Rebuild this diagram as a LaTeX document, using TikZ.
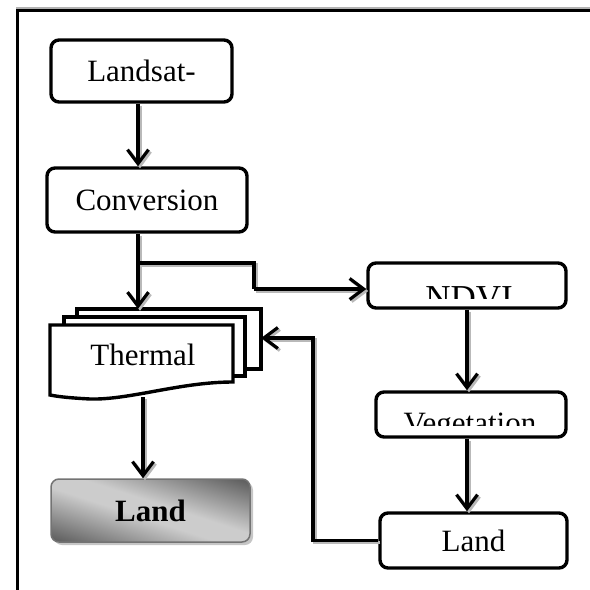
\documentclass[tikz,border=0pt]{standalone}
\usepackage{fontspec}
\setmainfont{Liberation Serif}
\usetikzlibrary{arrows.meta,calc,shadows}
\pgfdeclareverticalshading{landshade}{100bp}{color(0bp)=(black!62); color(37bp)=(black!62); color(48bp)=(black!20); color(52bp)=(black!20); color(63bp)=(black!62); color(100bp)=(black!62)}
\newcommand\myconnectors{%
\draw[conn] (landsat.south -| ax) -- (conv.north -| ax);
\draw[conn] (conv.south -| ax) -- (thstack.north -| ax);
\draw[plainline] (br1) -- (br2) -- (br3);
\draw[conn] (br3) -- (ndvi.west |- br3);
\draw[conn] (ndvi.south -| ax3) -- (veg.north -| ax3);
\draw[conn] (veg.south -| ax3) -- (landr.north -| ax3);
\draw[conn] (landr.west) -- (fb1) -- (fb2) -- (thstack.east |- fb2);
\draw[conn] (thstack.south -| ax2) -- (landb.north -| ax2);
}
\begin{document}
\begin{tikzpicture}[x=1pt,y=-1pt,
  box/.style={draw=black, line width=3.4pt, rounded corners=8pt, fill=white, inner sep=0pt,
    font=\fontsize{31}{36}\selectfont},
  conn/.style={line width=3.2pt, line join=miter, -{Straight Barb[length=14pt,width=21pt,line width=3.2pt]}},
  plainline/.style={line width=3.2pt, line join=miter},
  sheet/.style={draw=black, line width=3.4pt, fill=white},
  txt/.style={font=\fontsize{31}{36}\selectfont, inner sep=0pt}
]
\useasboundingbox (0,0) rectangle (590,590);
% frame
\draw[gray!60, line width=3pt] (17,590) -- (17,8) -- (590,8);
\draw[line width=3pt] (17,590) -- (17,10) -- (590,10);

% boxes
\node[box, minimum width=181pt, minimum height=62pt] (landsat) at (141.5,71) {Landsat-};
\node[box, minimum width=200pt, minimum height=64pt] (conv) at (147,200) {Conversion};
\node[box, minimum width=198pt, minimum height=45pt] (ndvi) at (467,285.5) {};
\node[box, minimum width=190pt, minimum height=45pt] (veg) at (471,414.5) {};
\node[box, minimum width=187pt, minimum height=55pt] (landr) at (473.5,540.5) {Land};

% gradient result box
\path[rounded corners=8pt, fill=gray!45] (54,482) rectangle (253,545);
\begin{scope}
  \clip[rounded corners=8pt] (51,479) rectangle (250,542);
  \shade[shading=landshade, shading angle=-18] (40.5,400.5) rectangle (260.5,620.5);
\end{scope}
\node[draw=black!55, line width=1.5pt, rounded corners=8pt, inner sep=0pt,
  minimum width=199pt, minimum height=63pt,
  font=\fontsize{31}{36}\selectfont\bfseries] (landb) at (150.5,510.5) {Land};

% clipped texts
\begin{scope}
  \clip (ndvi.north west) rectangle (ndvi.east |- 0,298);
  \node[font=\fontsize{35}{40}\selectfont, inner sep=0pt, anchor=base] (ndvit) at (469,309) {NDVI};
\end{scope}
\begin{scope}
  \clip (veg.north west) rectangle (veg.east |- 0,425.5);
  \node[txt, anchor=base] (vegt) at (470,433.5) {Vegetation};
\end{scope}

% thermal multi-document
\draw[sheet] (77,309) rectangle (261,369);
\draw[sheet] (64,317) rectangle (245,376);
\draw[sheet] (50,325) -- (233,325) -- (233,382)
  .. controls (180,382) and (130,400) .. (90,399)
  .. controls (72,398) and (60,397) .. (50,395) -- cycle;
\node[txt] (thermal) at (143,355) {Thermal};
\node[inner sep=0pt, minimum width=211pt, minimum height=88pt] (thstack) at (155.5,353) {};

% helper coordinates
\coordinate (ax) at (138,0);
\coordinate (ax2) at (143,0);
\coordinate (ax3) at (467,0);
\coordinate (br1) at (138,263);
\coordinate (br2) at (254,263);
\coordinate (br3) at (254,289);
\coordinate (fb1) at (313,540.5);
\coordinate (fb2) at (313,338);

% connectors: shadow then black
\begin{scope}[gray!55, transform canvas={shift={(2pt,-2pt)}}]
\myconnectors
\end{scope}
\myconnectors
\end{tikzpicture}
\end{document}
